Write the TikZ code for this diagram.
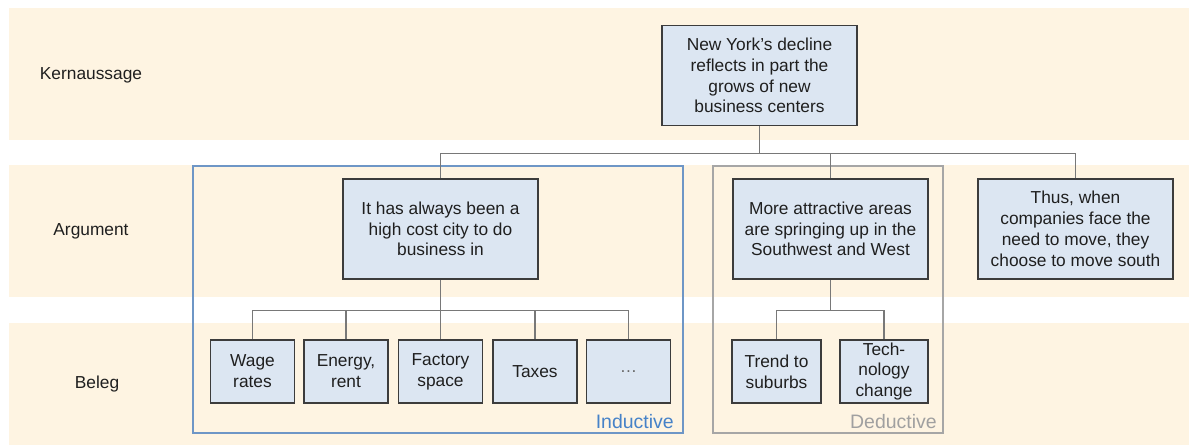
\documentclass[tikz,border=0pt]{standalone}
\usepackage{fontspec}
\setmainfont{Liberation Sans}
\begin{document}
\begin{tikzpicture}[x=0.75pt,y=-0.75pt,
  band/.style={fill=bandc,draw=none},
  box/.style={draw=boxline,line width=1.2pt,fill=boxfill,align=center,inner sep=0pt,
    font=\fontsize{13}{15.6}\selectfont,text=black!88},
  argbox/.style={box,minimum width=146.25pt,minimum height=75pt},
  belbox/.style={box,minimum width=63pt,minimum height=47.25pt},
  conn/.style={draw=connc,line width=0.8pt},
  rowlabel/.style={font=\fontsize{13}{15.6}\selectfont,text=black!88},
  frameind/.style={draw=indc,line width=1pt},
  frameded/.style={draw=dedc,line width=1pt}]
\definecolor{bandc}{RGB}{254,244,226}
\definecolor{boxfill}{RGB}{220,230,242}
\definecolor{boxline}{RGB}{60,60,60}
\definecolor{connc}{RGB}{120,120,120}
\definecolor{indc}{RGB}{110,150,198}
\definecolor{dedc}{RGB}{166,166,166}
\definecolor{indtext}{RGB}{70,130,200}
\definecolor{dedtext}{RGB}{160,160,160}
\useasboundingbox (0,0) rectangle (1189,446);
% bands
\fill[band] (9,8) rectangle (1189,140);
\fill[band] (9,165) rectangle (1189,297);
\fill[band] (9,323) rectangle (1189,445);
% row labels
\node[rowlabel] (lk) at (91,75) {Kernaussage};
\node[rowlabel] (la) at (91,231) {Argument};
\node[rowlabel] (lb) at (97,384) {Beleg};
% frames
\draw[frameind] (193,166) rectangle (683,433);
\draw[frameded] (713,166) rectangle (943,433);
\node[anchor=base east,text=indtext,font=\fontsize{14.6}{17}\selectfont,inner sep=0pt] (ind) at (674,428) {Inductive};
\node[anchor=base east,text=dedtext,font=\fontsize{14.6}{17}\selectfont,inner sep=0pt] (ded) at (937,428) {Deductive};
% boxes
\node[argbox] (top) at (759.5,75.5) {New York's decline\\reflects in part the\\grows of new\\business centers};
\node[argbox] (a1) at (440.5,229) {It has always been a\\high cost city to do\\business in};
\node[argbox] (a2) at (830.5,229) {More attractive areas\\are springing up in the\\Southwest and West};
\node[argbox] (a3) at (1075.5,229) {Thus, when\\companies face the\\need to move, they\\choose to move south};
\node[belbox] (b1) at (252.5,371.5) {Wage\\rates};
\node[belbox] (b2) at (346,371.5) {Energy,\\rent};
\node[belbox] (b3) at (440.5,371.5) {Factory\\space};
\node[belbox] (b4) at (535,371.5) {Taxes};
\node[belbox] (b5) at (628.5,371.5) {\textcolor{black!60}{\dots}};
\node[belbox,minimum width=66.75pt] (d1) at (776.5,371.5) {Trend to\\suburbs};
\node[belbox,minimum width=66pt] (d2) at (884,371.5) {Tech-\\nology\\change};
% connectors
\draw[conn] (top.south) -- ++(0,27) coordinate (jt);
\draw[conn] (jt) -| (a1.north);
\draw[conn] (jt) -| (a2.north);
\draw[conn] (jt) -| (a3.north);
\draw[conn] (a1.south) -- ++(0,31) coordinate (j1);
\foreach \b in {b1,b2,b3,b4,b5} \draw[conn] (j1) -| (\b.north);
\draw[conn] (a2.south) -- ++(0,31) coordinate (j2);
\draw[conn] (j2) -| (d1.north);
\draw[conn] (j2) -| (d2.north);
\end{tikzpicture}
\end{document}
